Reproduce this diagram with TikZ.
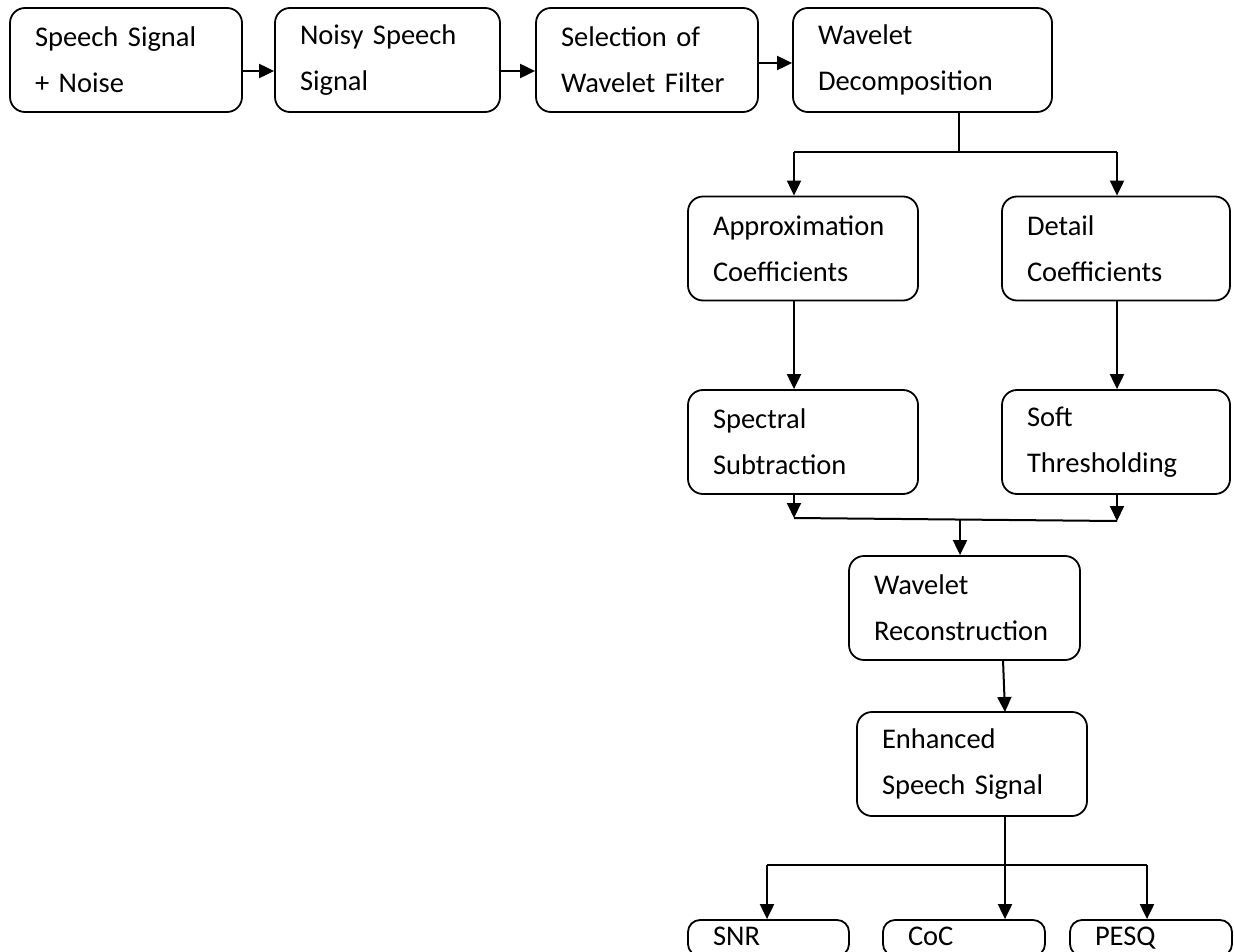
\documentclass[tikz,border=0pt]{standalone}
\usepackage{fontspec}
\setmainfont{Carlito}
\usetikzlibrary{arrows.meta}
\begin{document}
\begin{tikzpicture}[x=1pt,y=-1pt,
  box/.style={draw, line width=1.8pt, rounded corners=15pt, minimum height=104pt, align=left, inner xsep=25pt, inner ysep=0pt,
    font=\fontsize{28.5}{46}\selectfont},
  sbox/.style={draw, line width=1.8pt, rounded corners=12pt, minimum height=36pt, align=left, inner xsep=25pt, inner ysep=0pt,
    text height=20pt, text depth=6pt, font=\fontsize{28.5}{46}\selectfont},
  conn/.style={line width=2pt},
  arr/.style={line width=2pt, -{Triangle[length=15pt,width=14pt]}}]
\useasboundingbox (0,0) rectangle (1234,952);
\clip (0,0) rectangle (1234,952);
\node[box, text width=182pt] (b1) at (126,60) {Speech Signal\\+ Noise};
\node[box, text width=175pt] (b2) at (387.5,60) {Noisy Speech\\Signal};
\node[box, text width=172pt] (b3) at (647,60) {Selection of\\Wavelet Filter};
\node[box, text width=209pt] (b4) at (922.5,60) {Wavelet\\Decomposition};
\node[box, text width=180pt] (b5) at (803,248.5) {Approximation\\Coefficients};
\node[box, text width=178pt] (b6) at (1116,248.5) {Detail\\Coefficients};
\node[box, text width=180pt] (b7) at (803,442) {Spectral\\Subtraction};
\node[box, text width=178pt] (b8) at (1116,442) {Soft\\Thresholding};
\node[box, text width=181pt] (b9) at (964.5,608) {Wavelet\\Reconstruction};
\node[box, text width=180pt] (b10) at (972,764) {Enhanced\\Speech Signal};
\node[sbox, text width=111pt] (m1) at (768.5,938) {SNR};
\node[sbox, text width=112pt] (m2) at (964,938) {CoC};
\node[sbox, text width=112pt] (m3) at (1151,938) {PESQ};
% top row arrows
\draw[arr] ([yshift=-11pt]b1.east) -- ([yshift=-11pt]b2.west);
\draw[arr] ([yshift=-11pt]b2.east) -- ([yshift=-11pt]b3.west);
\draw[arr] ([yshift=-3pt]b3.east) -- ([yshift=-3pt]b4.west);
% decomposition split
\coordinate (s1) at (959,152);
\coordinate (s1l) at (794,152);
\coordinate (s1r) at (1117,152);
\draw[conn] (s1 |- b4.south) -- (s1);
\draw[conn] (s1l) -- (s1r);
\draw[arr] (s1l) -- (s1l |- b5.north);
\draw[arr] (s1r) -- (s1r |- b6.north);
\draw[arr] (s1l |- b5.south) -- (s1l |- b7.north);
\draw[arr] (s1r |- b6.south) -- (s1r |- b8.north);
% merge
\coordinate (j1) at (794,518);
\coordinate (j2) at (1117,521);
\coordinate (j3) at (960,518.5);
\draw[arr] (j1 |- b7.south) -- (j1);
\draw[arr] (j2 |- b8.south) -- (j2);
\draw[conn] (j1) -- (j2);
\draw[arr] (j3) -- (j3 |- b9.north);
\draw[arr] (1003,660) -- (1005,712);
% metrics split
\coordinate (k0) at (1005,865);
\coordinate (kl) at (767,865);
\coordinate (kr) at (1147,865);
\draw[conn] (k0 |- b10.south) -- (k0);
\draw[conn] (kl) -- (kr);
\draw[arr] (kl) -- (kl |- m1.north);
\draw[arr] (k0) -- (k0 |- m2.north);
\draw[arr] (kr) -- (kr |- m3.north);
\end{tikzpicture}
\end{document}
